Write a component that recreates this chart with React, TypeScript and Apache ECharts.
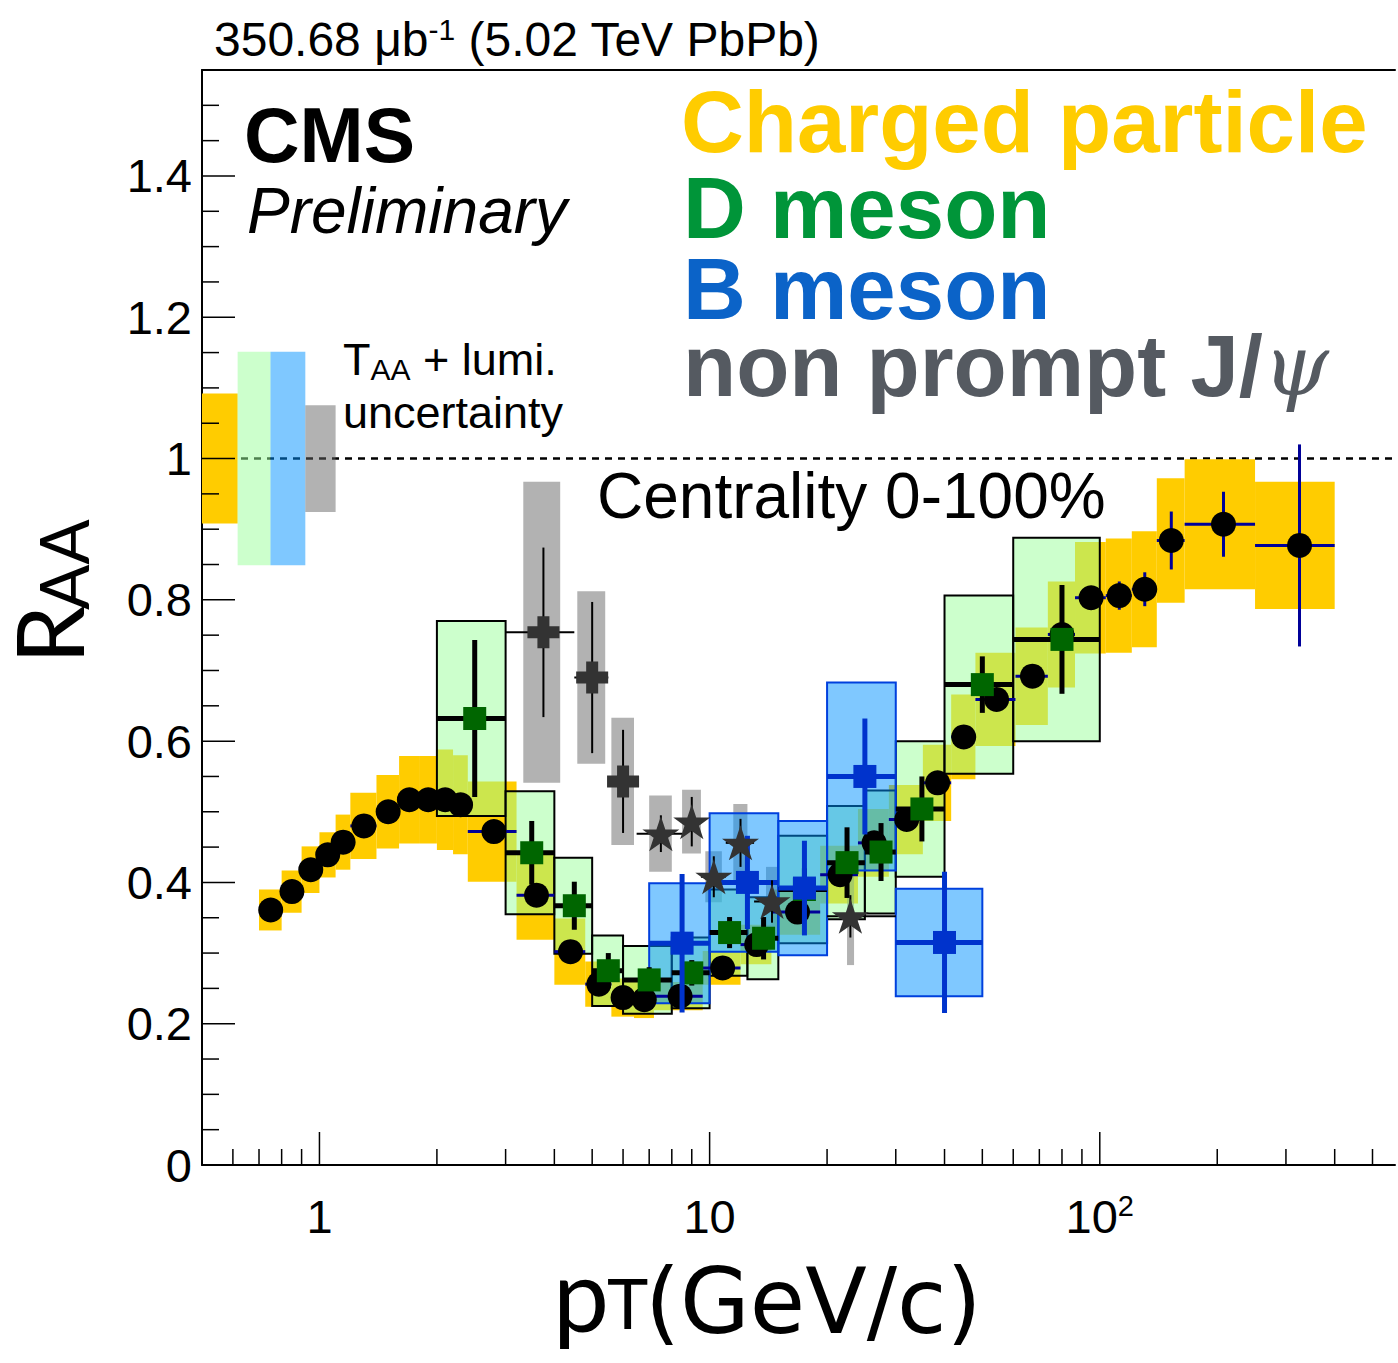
import React, { useEffect, useRef } from 'react';
import * as echarts from 'echarts';

// Axis ranges
const X_MIN = 0.5;
const X_MAX = 571;
const Y_MAX = 1.55;

// Tick positions
const xTickValues = [0.6, 0.7, 0.8, 0.9, 1, 2, 3, 4, 5, 6, 7, 8, 9, 10, 20, 30, 40, 50, 60, 70, 80, 90, 100, 200, 300, 400, 500];
const xMajorTicks = [1, 10, 100];
const yTickValues = [0, 0.05, 0.1, 0.15, 0.2, 0.25, 0.3, 0.35, 0.4, 0.45, 0.5, 0.55, 0.6, 0.65, 0.7, 0.75, 0.8, 0.85, 0.9, 0.95, 1, 1.05, 1.1, 1.15, 1.2, 1.25, 1.3, 1.35, 1.4, 1.45, 1.5];
const yMajorTicks = [0, 0.2, 0.4, 0.6, 0.8, 1, 1.2, 1.4];

// Charged particles
const chLow = [0.7, 0.8, 0.9, 1.0, 1.1, 1.2, 1.4, 1.6, 1.8, 2.0, 2.2, 2.4, 3.2, 4.0, 4.8, 5.6, 6.4, 7.2, 9.6, 12, 14.4, 19.2, 24, 28.8, 35.2, 41.6, 48, 60.8, 73.6, 86.4, 103.6, 120.8, 140, 165, 250];
const chHigh = [0.8, 0.9, 1.0, 1.1, 1.2, 1.4, 1.6, 1.8, 2.0, 2.2, 2.4, 3.2, 4.0, 4.8, 5.6, 6.4, 7.2, 9.6, 12, 14.4, 19.2, 24, 28.8, 35.2, 41.6, 48, 60.8, 73.6, 86.4, 103.6, 120.8, 140, 165, 250, 400];
const chPt = [0.75, 0.85, 0.95, 1.05, 1.15, 1.3, 1.5, 1.7, 1.9, 2.1, 2.3, 2.8, 3.6, 4.4, 5.2, 6.0, 6.8, 8.4, 10.8, 13.2, 16.8, 21.6, 26.4, 32, 38.4, 44.8, 54.4, 67.2, 80, 95, 112.2, 130.4, 152.5, 207.5, 325];
const chRaa = [0.361, 0.387, 0.418, 0.439, 0.457, 0.480, 0.500, 0.517, 0.517, 0.517, 0.510, 0.472, 0.382, 0.302, 0.256, 0.237, 0.234, 0.239, 0.279, 0.312, 0.358, 0.411, 0.456, 0.489, 0.541, 0.606, 0.659, 0.692, 0.751, 0.803, 0.806, 0.815, 0.884, 0.907, 0.877];
const chStat = [0.002, 0.002, 0.002, 0.002, 0.002, 0.002, 0.002, 0.002, 0.002, 0.002, 0.002, 0.002, 0.002, 0.002, 0.002, 0.002, 0.002, 0.003, 0.003, 0.004, 0.004, 0.005, 0.005, 0.006, 0.006, 0.007, 0.008, 0.009, 0.010, 0.012, 0.020, 0.024, 0.041, 0.046, 0.143];
const chSys = [0.029, 0.030, 0.033, 0.032, 0.039, 0.047, 0.052, 0.062, 0.062, 0.071, 0.070, 0.071, 0.063, 0.047, 0.032, 0.027, 0.026, 0.020, 0.024, 0.028, 0.032, 0.041, 0.048, 0.049, 0.054, 0.060, 0.066, 0.069, 0.075, 0.079, 0.081, 0.082, 0.088, 0.092, 0.090];

// D mesons
const dLow = [2, 3, 4, 5, 6, 8, 10, 12.5, 15, 20, 25, 30, 40, 60];
const dHigh = [3, 4, 5, 6, 8, 10, 12.5, 15, 20, 25, 30, 40, 60, 100];
const dPt = [2.5, 3.5, 4.5, 5.5, 7, 9, 11.25, 13.75, 17.5, 22.5, 27.5, 35, 50, 80];
const dRaa = [0.632, 0.442, 0.367, 0.275, 0.262, 0.272, 0.329, 0.321, 0.390, 0.428, 0.443, 0.504, 0.680, 0.744];
const dStat = [0.111, 0.045, 0.034, 0.025, 0.018, 0.018, 0.022, 0.030, 0.030, 0.050, 0.041, 0.046, 0.040, 0.077];
const dSys = [0.138, 0.087, 0.068, 0.050, 0.048, 0.050, 0.061, 0.058, 0.076, 0.080, 0.087, 0.096, 0.126, 0.144];

// B mesons
const bLow = [7, 10, 15, 20, 30];
const bHigh = [10, 15, 20, 30, 50];
const bPt = [8.5, 12.5, 17.5, 25, 40];
const bRaa = [0.314, 0.400, 0.392, 0.550, 0.315];
const bStat = [0.098, 0.066, 0.067, 0.082, 0.100];
const bSys = [0.085, 0.098, 0.095, 0.133, 0.076];

// Non-prompt J/psi, 1.8<|y|<2.4 (crosses)
const jfLow = [3, 4.5, 5.5];
const jfHigh = [4.5, 5.5, 6.5];
const jfBoxLow = [3.33, 4.58, 5.6];
const jfBoxHigh = [4.14, 5.4, 6.4];
const jfPt = [3.75, 5.0, 6.0];
const jfRaa = [0.754, 0.690, 0.543];
const jfStat = [0.120, 0.107, 0.073];
const jfSys = [0.213, 0.122, 0.090];

// Non-prompt J/psi, |y|<2.4 (stars)
const jcLow = [6.5, 8.5, 9.5, 11, 13, 20];
const jcHigh = [8.5, 9.5, 11, 13, 15, 30];
const jcBoxLow = [7.0, 8.5, 9.75, 11.5, 13.95, 22.5];
const jcBoxHigh = [8.0, 9.5, 10.75, 12.5, 14.95, 23.45];
const jcPt = [7.5, 9.0, 10.25, 12.0, 14.45, 22.95];
const jcRaa = [0.469, 0.486, 0.408, 0.456, 0.373, 0.352];
const jcStat = [0.026, 0.035, 0.029, 0.034, 0.030, 0.030];
const jcSys = [0.054, 0.045, 0.036, 0.055, 0.049, 0.069];

// Global T_AA + luminosity uncertainties (charged, D, B, non-prompt J/psi)
const normLow = [0.5, 0.617, 0.749, 0.92];
const normHigh = [0.617, 0.749, 0.92, 1.1];
const normUnc = [0.092, 0.151, 0.151, 0.0755];

const YELLOW = '#ffcc00';
const D_FILL = 'rgba(153,255,153,0.5)';
const B_FILL = 'rgba(0,145,255,0.5)';
const GRAY_FILL = 'rgba(102,102,102,0.5)';
const NORM_FILLS = [YELLOW, D_FILL, B_FILL, GRAY_FILL];

const HELV = '"Liberation Sans", Arial, Helvetica, sans-serif';
const GILL = 'Lato, "Open Sans", sans-serif';
const WIDE = '"DejaVu Sans", sans-serif';

const STAR = 'path://M50,0 L61.8,35.1 L98.9,35.1 L69.1,56.7 L80.9,91.9 L50,70.3 L19.1,91.9 L30.9,56.7 L1.1,35.1 L38.2,35.1 Z';
const PLUS = 'path://M2.5,0 H5.5 V2.5 H8 V5.5 H5.5 V8 H2.5 V5.5 H0 V2.5 H2.5 Z';

const boxRender = (fill: string, stroke: string | null, lw: number) => (params: any, api: any) => {
  const lo = api.value(0);
  const hi = api.value(1);
  const y = api.value(2);
  const h = api.value(3);
  const a = api.coord([lo, y + h]);
  const b = api.coord([hi, y - h]);
  return {
    type: 'rect',
    shape: { x: a[0], y: a[1], width: b[0] - a[0], height: b[1] - a[1] },
    style: { fill, stroke: stroke, lineWidth: lw },
  };
};

const errRender = (color: string, lw: number) => (params: any, api: any) => {
  const x = api.value(0);
  const lo = api.value(1);
  const hi = api.value(2);
  const y = api.value(3);
  const e = api.value(4);
  const pl = api.coord([lo, y]);
  const ph = api.coord([hi, y]);
  const pt = api.coord([x, y + e]);
  const pb = api.coord([x, y - e]);
  return {
    type: 'group',
    children: [
      { type: 'line', shape: { x1: pl[0], y1: pl[1], x2: ph[0], y2: ph[1] }, style: { stroke: color, lineWidth: lw } },
      { type: 'line', shape: { x1: pt[0], y1: pt[1], x2: pb[0], y2: pb[1] }, style: { stroke: color, lineWidth: lw } },
    ],
  };
};

const boxData = (lo: number[], hi: number[], y: number[], s: number[]) => y.map((v, i) => [lo[i], hi[i], v, s[i]]);
const errData = (x: number[], lo: number[], hi: number[], y: number[], e: number[]) => x.map((v, i) => [v, lo[i], hi[i], y[i], e[i]]);
const ptData = (x: number[], y: number[]) => x.map((v, i) => [v, y[i]]);

function buildOption(): any {
  const boxSeries = (name: string, data: any[], fill: string, stroke: string | null, lw: number, z: number) => ({
    type: 'custom', name, data, z, silent: true,
    encode: { x: [0, 1], y: [2] },
    renderItem: boxRender(fill, stroke, lw),
  });
  const errSeries = (name: string, data: any[], color: string, lw: number, z: number) => ({
    type: 'custom', name, data, z, silent: true,
    encode: { x: [0, 1, 2], y: [3] },
    renderItem: errRender(color, lw),
  });
  const markSeries = (name: string, data: any[], symbol: string, size: any, color: string, z: number) => ({
    type: 'scatter', name, data, z, silent: true, symbol, symbolSize: size,
    itemStyle: { color, opacity: 1 },
  });

  const text = (t: string, x: number, y: number, font: string, fill = '#000', extra: any = {}) => ({
    type: 'text', x, y, z: 100, silent: true,
    style: { text: t, font, fill, align: 'left', verticalAlign: 'middle', textAlign: 'left', textVerticalAlign: 'middle', ...extra },
  });

  return {
    animation: false,
    backgroundColor: '#fff',
    grid: { left: 202, right: 0, top: 70, bottom: 198, containLabel: false },
    xAxis: [
      {
        type: 'log', logBase: 10, min: X_MIN, max: X_MAX,
        axisLine: { show: true, onZero: false, lineStyle: { color: '#000', width: 2 } },
        axisTick: { show: false },
        splitLine: { show: false },
        axisLabel: {
          color: '#000', fontFamily: HELV, fontSize: 47, lineHeight: 50, margin: 26,
          formatter: (v: number) => {
            const e = Math.log10(v);
            const r = Math.round(e);
            if (Math.abs(e - r) > 1e-6) return '';
            if (r === 0) return '1';
            if (r === 1) return '10';
            return '10{sup|' + r + '}';
          },
          rich: { sup: { fontFamily: HELV, fontSize: 29, lineHeight: 22, verticalAlign: 'top', color: '#000' } },
        },
      },
      {
        type: 'log', logBase: 10, min: X_MIN, max: X_MAX, position: 'top',
        axisLine: { show: true, onZero: false, lineStyle: { color: '#000', width: 2 } },
        axisTick: { show: false }, axisLabel: { show: false }, splitLine: { show: false },
      },
    ],
    yAxis: {
      type: 'value', min: 0, max: Y_MAX, interval: 0.2,
      axisLine: { show: true, onZero: false, lineStyle: { color: '#000', width: 2 } },
      axisTick: { show: false },
      splitLine: { show: false },
      axisLabel: {
        color: '#000', fontFamily: HELV, fontSize: 47, margin: 10,
        formatter: (v: number) => (v > 1.45 ? '' : String(Math.round(v * 10) / 10)),
      },
    },
    series: [
      {
        type: 'line', name: 'unity', z: 1, silent: true, showSymbol: false,
        data: [[X_MIN, 1], [X_MAX, 1]],
        lineStyle: { color: '#000', width: 2.5, type: [7, 6] },
      },
      {
        type: 'custom', name: 'norm', z: 2, silent: true,
        data: normLow.map((v, i) => [v, normHigh[i], 1, normUnc[i]]),
        encode: { x: [0, 1], y: [2] },
        renderItem: (params: any, api: any) => boxRender(NORM_FILLS[params.dataIndex], null, 0)(params, api),
      },
      boxSeries('chSys', boxData(chLow, chHigh, chRaa, chSys), YELLOW, null, 0, 2),
      boxSeries('jfSys', boxData(jfBoxLow, jfBoxHigh, jfRaa, jfSys), GRAY_FILL, null, 0, 3),
      boxSeries('jcSys', boxData(jcBoxLow, jcBoxHigh, jcRaa, jcSys), GRAY_FILL, null, 0, 3),
      boxSeries('dSys', boxData(dLow, dHigh, dRaa, dSys), D_FILL, '#000', 2, 4),
      boxSeries('bSys', boxData(bLow, bHigh, bRaa, bSys), B_FILL, '#0040dd', 2, 5),
      errSeries('chErr', errData(chPt, chLow, chHigh, chRaa, chStat), '#000099', 3, 6),
      markSeries('Charged particle', ptData(chPt, chRaa), 'circle', 25, '#000', 7),
      errSeries('dErr', errData(dPt, dLow, dHigh, dRaa, dStat), '#000', 5, 8),
      markSeries('D meson', ptData(dPt, dRaa), 'rect', 23, '#006600', 9),
      errSeries('bErr', errData(bPt, bLow, bHigh, bRaa, bStat), '#0033cc', 5, 10),
      markSeries('B meson', ptData(bPt, bRaa), 'rect', 23, '#0033cc', 11),
      errSeries('jfErr', errData(jfPt, jfLow, jfHigh, jfRaa, jfStat), '#000', 2, 12),
      errSeries('jcErr', errData(jcPt, jcLow, jcHigh, jcRaa, jcStat), '#000', 2, 12),
      markSeries('non prompt J/psi fwd', ptData(jfPt, jfRaa), PLUS, 32, '#333333', 13),
      markSeries('non prompt J/psi', ptData(jcPt, jcRaa), STAR, [37, 35], '#333333', 13),
      {
        type: 'custom', name: 'xTicks', z: 14, silent: true,
        data: xTickValues.map((v) => [v, xMajorTicks.includes(v) ? 1 : 0]),
        encode: { x: [0] },
        renderItem: (params: any, api: any) => {
          const p = api.coord([api.value(0), 0]);
          const len = api.value(1) ? 33 : 16;
          return { type: 'line', shape: { x1: p[0], y1: p[1], x2: p[0], y2: p[1] - len }, style: { stroke: '#000', lineWidth: 1.5 } };
        },
      },
      {
        type: 'custom', name: 'yTicks', z: 14, silent: true,
        data: yTickValues.map((v) => [X_MIN, v, yMajorTicks.includes(v) ? 1 : 0]),
        encode: { x: [0], y: [1] },
        renderItem: (params: any, api: any) => {
          const p = api.coord([api.value(0), api.value(1)]);
          const len = api.value(2) ? 33 : 17;
          return { type: 'line', shape: { x1: p[0], y1: p[1], x2: p[0] + len, y2: p[1] }, style: { stroke: '#000', lineWidth: 1.5 } };
        },
      },
    ],
    graphic: [
      text('350.68 μb{sup|-1} (5.02 TeV PbPb)', 214, 39, `48px ${HELV}`, '#000', {
        lineHeight: 50,
        rich: { sup: { fontFamily: HELV, fontSize: 30, lineHeight: 20, verticalAlign: 'top', fill: '#000' } },
      }),
      text('CMS', 244, 135, `bold 77px ${HELV}`, '#000', { lineHeight: 66 }),
      text('Preliminary', 247, 211, `italic 64px ${HELV}`, '#000', { lineHeight: 60 }),
      text('Charged particle', 681, 121, `bold 87px ${HELV}`, YELLOW, { lineHeight: 74 }),
      text('D meson', 683, 207, `bold 87px ${HELV}`, '#009539', { lineHeight: 74 }),
      text('B meson', 683, 288, `bold 87px ${HELV}`, '#0b63c8', { lineHeight: 74 }),
      text('{b|non prompt J/}{psi|ψ}', 683, 365, `bold 87px ${HELV}`, '#555a61', {
        lineHeight: 74,
        rich: {
          b: { fontFamily: HELV, fontWeight: 'bold', fontSize: 87, lineHeight: 74, fill: '#555a61' },
          psi: { fontFamily: '"DejaVu Serif", serif', fontStyle: 'italic', fontWeight: 'normal', fontSize: 84, lineHeight: 74, fill: '#555a61' },
        },
      }),
      text('T{sub|AA} + lumi.', 343, 359, `45px ${HELV}`, '#000', {
        lineHeight: 50,
        rich: { sub: { fontFamily: HELV, fontSize: 30, lineHeight: 14, verticalAlign: 'bottom', fill: '#000' } },
      }),
      text('uncertainty', 343, 412, `45px ${HELV}`, '#000', { lineHeight: 44 }),
      text('Centrality 0-100%', 597, 496, `64px ${HELV}`, '#000', { lineHeight: 60 }),
      { ...text('R', 47, 664, `94px ${GILL}`, '#000', { lineHeight: 70 }), rotation: Math.PI / 2 },
      { ...text('AA', 63, 610, `67px ${GILL}`, '#000', { lineHeight: 50 }), rotation: Math.PI / 2 },
      text('p', 553, 1293, `100px ${GILL}`, '#000', { lineHeight: 80 }),
      text('T', 607, 1302, `70px ${GILL}`, '#000', { lineHeight: 54 }),
      text('(GeV/c)', 645, 1301, `90px ${WIDE}`, '#000', { lineHeight: 80 }),
    ],
  };
}

export default function App() {
  const ref = useRef<HTMLDivElement>(null);
  useEffect(() => {
    if (!ref.current) return;
    const chart = echarts.init(ref.current, undefined, { renderer: 'svg' });
    chart.setOption(buildOption());
    return () => chart.dispose();
  }, []);
  return (
    <div
      ref={ref}
      style={{ position: 'absolute', left: 0, top: 0, width: 1398, height: 1363, background: '#fff' }}
    />
  );
}
